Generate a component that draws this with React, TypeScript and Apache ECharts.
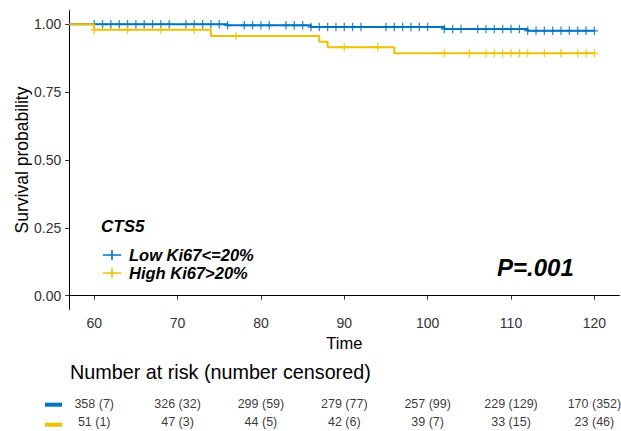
import React, { useEffect, useRef } from "react";
import * as echarts from "echarts";

// Kaplan-Meier step data (time, survival)
const lowTimes = [57, 76, 86, 102, 112, 120];
const lowSurv = [1.0, 0.996, 0.99, 0.983, 0.976, 0.976];
const highTimes = [57, 60, 74, 87, 88, 96, 120];
const highSurv = [1.0, 0.98, 0.957, 0.936, 0.915, 0.893, 0.893];

// censoring times
const lowCensor = [60, 61, 62, 63, 64, 65, 66, 67, 68, 69, 71, 72, 73, 74, 75, 76, 78, 79, 80, 81, 83, 84, 85, 86, 87, 88, 89, 90, 91, 92, 95, 96, 97, 98, 99, 100, 102, 103, 104, 106, 107, 108, 109, 110, 111, 112, 113, 114, 115, 116, 117, 118, 119, 120];
const highCensor = [60, 64, 68, 72, 77, 90, 94, 102, 105, 107, 108, 109, 110, 111, 112, 114, 116, 118, 119, 120];

const xTicks = [60, 70, 80, 90, 100, 110, 120];
const yTicks = [0, 0.25, 0.5, 0.75, 1.0];

const groupNames = ["Low Ki67<=20%", "High Ki67>20%"];
const riskLow = ["358 (7)", "326 (32)", "299 (59)", "279 (77)", "257 (99)", "229 (129)", "170 (352)"];
const riskHigh = ["51 (1)", "47 (3)", "44 (5)", "42 (6)", "39 (7)", "33 (15)", "23 (46)"];

const BLUE = "#0073C2";
const YELLOW = "#EFC000";
const FONT = "'Liberation Sans', Arial, sans-serif";

const PLUS = "path://M3.25,0 L4.75,0 L4.75,3.25 L8,3.25 L8,4.75 L4.75,4.75 L4.75,8 L3.25,8 L3.25,4.75 L0,4.75 L0,3.25 L3.25,3.25 Z";
const LEG_ICON = "path://M0,4.2 L18,4.2 L18,5.8 L0,5.8 Z M8.2,0 L9.8,0 L9.8,10 L8.2,10 Z";

function survAt(times: number[], surv: number[], t: number): number {
  let s = surv[0];
  for (let i = 0; i < times.length; i++) {
    if (times[i] <= t) s = surv[i];
  }
  return s;
}

export default function App() {
  const ref = useRef<HTMLDivElement>(null);
  useEffect(() => {
    if (!ref.current) return;
    const chart = echarts.init(ref.current, undefined, { renderer: "svg" });
    const gridLeft = 69.2;
    const gridRight = 1.6;
    chart.setOption({
      animation: false,
      backgroundColor: "#ffffff",
      textStyle: { fontFamily: FONT },
      title: {
        text: "CTS5",
        left: 101,
        top: 218,
        padding: 0,
        textStyle: { fontFamily: FONT, fontSize: 17, fontWeight: "bold", fontStyle: "italic", color: "#000" },
      },
      legend: {
        orient: "vertical",
        left: 103,
        top: 246,
        padding: 0,
        itemWidth: 18,
        itemHeight: 10,
        itemGap: 0,
        data: [
          { name: groupNames[0], icon: LEG_ICON },
          { name: groupNames[1], icon: LEG_ICON },
        ],
        textStyle: { fontFamily: FONT, fontSize: 16.5, lineHeight: 18, fontWeight: "bold", fontStyle: "italic", color: "#000", padding: [0, 0, 0, 3] },
      },
      grid: [
        { left: gridLeft, right: gridRight, top: 10.7, bottom: 121.7 },
        { left: gridLeft, right: gridRight, top: 395, height: 40 },
      ],
      xAxis: [
        {
          type: "value",
          gridIndex: 0,
          min: 57,
          max: 123,
          name: "Time",
          nameLocation: "middle",
          nameGap: 25,
          nameMoveOverlap: false,
          nameTextStyle: { fontFamily: FONT, fontSize: 16.5, color: "#000" },
          axisLine: { show: true, lineStyle: { color: "#000", width: 1 } },
          axisTick: { show: true, length: 4, customValues: xTicks, lineStyle: { color: "#333" } },
          axisLabel: { customValues: xTicks, margin: 7, fontSize: 14, color: "#333", fontFamily: FONT },
          splitLine: { show: false },
        },
        {
          type: "value",
          gridIndex: 1,
          min: 57,
          max: 123,
          show: false,
        },
      ],
      yAxis: [
        {
          type: "value",
          gridIndex: 0,
          min: -0.05,
          max: 1.05,
          name: "Survival probability",
          nameLocation: "middle",
          nameGap: 38,
          nameMoveOverlap: false,
          nameTextStyle: { fontFamily: FONT, fontSize: 17.5, color: "#000" },
          axisLine: { show: true, lineStyle: { color: "#000", width: 1 } },
          axisTick: { show: true, length: 4, customValues: yTicks, lineStyle: { color: "#333" } },
          axisLabel: {
            customValues: yTicks,
            margin: 8,
            fontSize: 14,
            color: "#333",
            fontFamily: FONT,
            formatter: (v: number) => v.toFixed(2),
          },
          splitLine: { show: false },
        },
        {
          type: "category",
          gridIndex: 1,
          data: ["Low", "High"],
          inverse: true,
          show: false,
        },
      ],
      series: [
        {
          name: groupNames[0],
          type: "line",
          step: "end",
          xAxisIndex: 0,
          yAxisIndex: 0,
          data: lowTimes.map((t, i) => [t, lowSurv[i]]),
          showSymbol: false,
          symbol: "none",
          lineStyle: { color: BLUE, width: 2 },
          itemStyle: { color: BLUE },
          z: 2,
        },
        {
          name: groupNames[0],
          type: "scatter",
          xAxisIndex: 0,
          yAxisIndex: 0,
          data: lowCensor.map((t) => [t, survAt(lowTimes, lowSurv, t)]),
          symbol: PLUS,
          symbolSize: [7, 8.5],
          itemStyle: { color: BLUE },
          z: 2,
        },
        {
          name: groupNames[1],
          type: "line",
          step: "end",
          xAxisIndex: 0,
          yAxisIndex: 0,
          data: highTimes.map((t, i) => [t, highSurv[i]]),
          showSymbol: false,
          symbol: "none",
          lineStyle: { color: YELLOW, width: 2 },
          itemStyle: { color: YELLOW },
          z: 3,
        },
        {
          name: groupNames[1],
          type: "scatter",
          xAxisIndex: 0,
          yAxisIndex: 0,
          data: highCensor.map((t) => [t, survAt(highTimes, highSurv, t)]),
          symbol: PLUS,
          symbolSize: [7, 8.5],
          itemStyle: { color: YELLOW },
          z: 3,
        },
        {
          type: "scatter",
          xAxisIndex: 1,
          yAxisIndex: 1,
          symbolSize: 0,
          silent: true,
          data: xTicks.map((t, i) => ({ value: [t, "Low"], label: { formatter: riskLow[i] } })),
          label: { show: true, position: "inside", fontFamily: FONT, fontSize: 12.5, color: "#000" },
        },
        {
          type: "scatter",
          xAxisIndex: 1,
          yAxisIndex: 1,
          symbolSize: 0,
          silent: true,
          data: xTicks.map((t, i) => ({ value: [t, "High"], label: { formatter: riskHigh[i] } })),
          label: { show: true, position: "inside", fontFamily: FONT, fontSize: 12.5, color: "#000" },
        },
      ],
      graphic: [
        {
          type: "text",
          left: 497,
          top: 255,
          style: { text: "P=.001", fontFamily: FONT, fontSize: 24, fontWeight: "bold", fontStyle: "italic", fill: "#000" },
        },
        {
          type: "text",
          left: 70,
          top: 362,
          style: { text: "Number at risk (number censored)", fontFamily: FONT, fontSize: 19.75, fill: "#000" },
        },
        { type: "rect", shape: { x: 45, y: 402.7, width: 17, height: 4 }, style: { fill: BLUE } },
        { type: "rect", shape: { x: 45, y: 422.7, width: 17, height: 4 }, style: { fill: YELLOW } },
      ],
    });
    return () => chart.dispose();
  }, []);
  return <div ref={ref} style={{ position: "fixed", left: 0, top: 0, width: 621, height: 431 }} />;
}
